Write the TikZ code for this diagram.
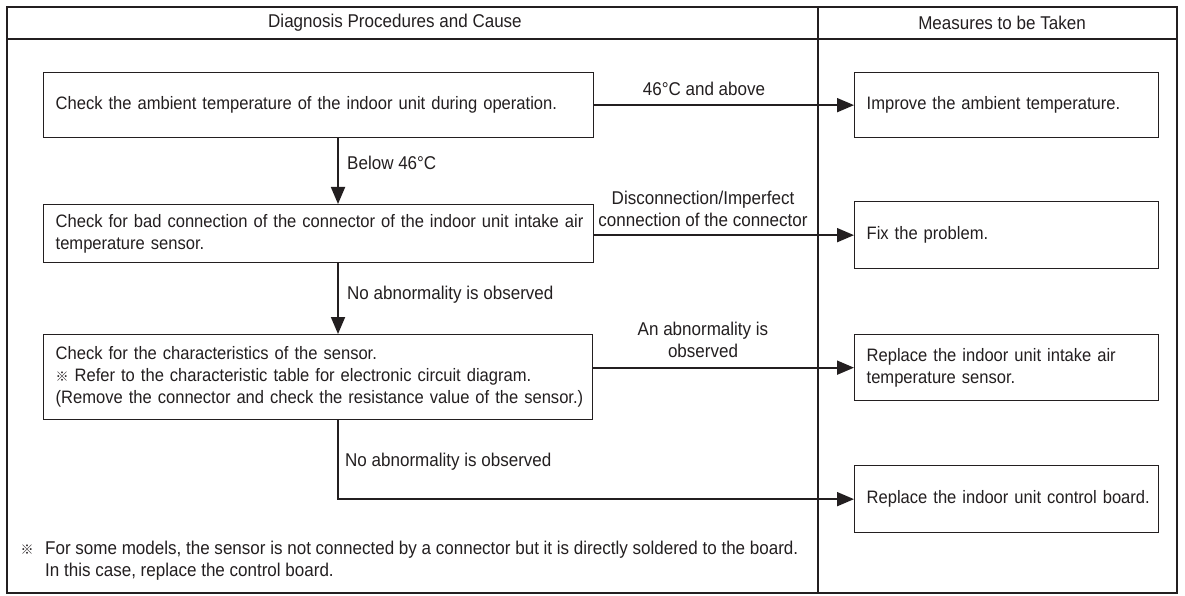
\documentclass[tikz,border=0pt]{standalone}
\usepackage{fontspec}
\setmainfont{Liberation Sans}[FakeStretch=0.92]
\newfontfamily\cjk{Noto Sans CJK JP}
\usetikzlibrary{arrows.meta,calc}
\definecolor{ink}{HTML}{231F20}
\newcommand{\refmark}{{\cjk\fontsize{13}{22}\selectfont ※}}
\tikzset{
  frame/.style={draw=ink, line width=1.3pt},
  box/.style={draw=ink, line width=1.3pt, fill=white, inner xsep=12pt, inner ysep=0pt,
    align=left, anchor=north west, text=ink, font=\fontsize{18}{22}\selectfont},
  lbl/.style={inner sep=0pt, text=ink},
  arr/.style={draw=ink, line width=1.8pt, -{Triangle[length=17pt,width=14pt]}},
}
\begin{document}
\begin{tikzpicture}[x=1pt,y=-1pt,font=\fontsize{18.5}{22}\selectfont]
\useasboundingbox (0,0) rectangle (1185,596);
\fill[white] (0,0) rectangle (1185,596);
% frame
\draw[frame] (7,7) rectangle (1177,593);
\draw[frame] (7,39) -- (1177,39);
\draw[frame] (818,7) -- (818,593);
\node[lbl, anchor=west] (h1) at (268,23) {Diagnosis Procedures and Cause};
\node[lbl] (h2) at (1002,23) {Measures to be Taken};
% left boxes
\node[box, text width=526pt, minimum height=65pt] (b1) at (43,72)
  {\mbox{Check the ambient temperature of the indoor unit during operation.}};
\node[box, text width=526pt, minimum height=58pt] (b2) at (43,204)
  {\mbox{Check for bad connection of the connector of the indoor unit intake air}\\temperature sensor.};
\node[box, text width=525pt, minimum height=85pt] (b3) at (43,334)
  {Check for the characteristics of the sensor.\\
   \mbox{\refmark\ Refer to the characteristic table for electronic circuit diagram.}\\
   \mbox{(Remove the connector and check the resistance value of the sensor.)}};
% right boxes
\node[box, text width=280pt, minimum height=65pt] (r1) at (854,72) {Improve the ambient temperature.};
\node[box, text width=280pt, minimum height=67pt] (r2) at (854,201) {Fix the problem.};
\node[box, text width=280pt, minimum height=66pt] (r3) at (854,334)
  {Replace the indoor unit intake air\\temperature sensor.};
\node[box, text width=280pt, minimum height=67pt] (r4) at (854,465)
  {\mbox{Replace the indoor unit control board.}};
% connectors
\coordinate (col) at (338,0);
\draw[arr] (b1.south -| col) -- (b2.north -| col);
\draw[arr] (b2.south -| col) -- (b3.north -| col);
\draw[arr] (b1.east) -- (r1.west);
\draw[arr] (r2.west -| b2.east) -- (r2.west);
\draw[arr] (r3.west -| b3.east) -- (r3.west);
\draw[arr] (b3.south -| col) |- (r4.west);
% labels
\node[lbl] (l1) at (704,89) {46°C and above};
\node[lbl, align=center] (l2) at (703,208.5) {Disconnection/Imperfect\\connection of the connector};
\node[lbl, align=center] (l3) at (703,339.5) {An abnormality is\\observed};
\node[lbl, anchor=west] (l4) at (347,163) {Below 46°C};
\node[lbl, anchor=west] (l5) at (347,295) {No abnormality is observed};
\node[lbl, anchor=west] (l6) at (345,462) {No abnormality is observed};
% footnote
\node[lbl] (fm) at (27,550) {\refmark};
\node[lbl, anchor=west, align=left] (fn) at (45,561)
  {For some models, the sensor is not connected by a connector but it is directly soldered to the board.\\In this case, replace the control board.};
\end{tikzpicture}
\end{document}
